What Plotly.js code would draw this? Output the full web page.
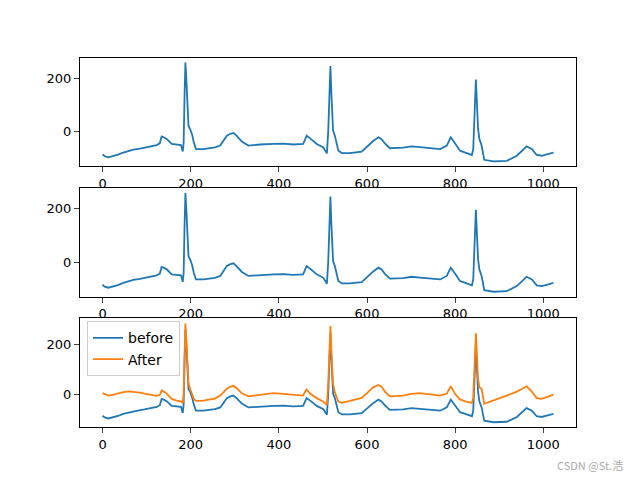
<!DOCTYPE html>
<html>
<head>
<meta charset="utf-8">
<script src="https://cdn.plot.ly/plotly-3.0.1.min.js"></script>
<style>html,body{margin:0;padding:0;background:#fff;}#chart{width:640px;height:480px;}</style>
</head>
<body>
<div id="chart"></div>
<script>
const sampleIndex = [0,5,13,25,35,47,60,70,85,95,108,123,130,134,140,146,157,168,178,182,184,186,188,190,193,195,199,203,207,212,229,244,255,267,282,290,297,304,316,331,357,388,410,433,455,459,463,471,486,501,509,512,515,517,519,521,523,527,535,543,561,588,603,614,626,633,641,652,682,701,720,743,766,781,790,800,811,823,838,841,844,847,849,852,855,860,866,887,917,940,962,974,985,996,1010,1023];
// Signal before processing
const before = [-85,-92,-96,-92,-86,-78,-72,-67,-63,-60,-55,-50,-43,-18,-22,-28,-46,-49,-50,-74,-40,130,258,200,100,22,8,-10,-40,-65,-65,-63,-59,-52,-15,-8,-5,-15,-37,-52,-48,-46,-45,-48,-46,-32,-15,-25,-46,-59,-81,0,160,245,150,30,4,-15,-71,-80,-80,-75,-52,-35,-21,-28,-45,-62,-60,-55,-58,-62,-65,-52,-21,-44,-71,-78,-87,-65,60,195,120,10,-28,-52,-105,-111,-109,-90,-55,-65,-87,-90,-84,-78];
// Signal after processing
const after = [5,0,-5,-1,4,9,12,11,7,3,-2,-6,-2,15,10,2,-18,-25,-28,-35,0,160,282,225,125,45,20,0,-18,-26,-25,-20,-17,-5,22,30,34,25,4,-8,-2,5,2,-3,-5,8,19,3,-15,-29,-42,40,190,272,180,65,41,8,-29,-34,-27,-14,10,28,37,30,10,-8,-5,2,5,1,-5,3,32,1,-20,-28,-34,-15,110,243,170,60,28,21,-38,-25,-5,11,32,11,-15,-18,-8,-1];
const seriesNames = ["before", "After"];
const xTicks = [0,200,400,600,800,1000];
const watermark = "CSDN @St.浩";

const blue = "#1f77b4", orange = "#ff7f0e";
function padRange(arrs){
  let mn = Infinity, mx = -Infinity;
  arrs.forEach(a => a.forEach(v => { if(v<mn) mn=v; if(v>mx) mx=v; }));
  const m = (mx-mn)*0.05; return [mn-m, mx+m];
}
const xr = padRange([sampleIndex]);
const y1r = padRange([before]);
const y3r = padRange([before, after]);

const lw = 1.8;
const traces = [
  {x: sampleIndex, y: before, xaxis:'x', yaxis:'y', mode:'lines', line:{color:blue, width:lw}, showlegend:false},
  {x: sampleIndex, y: before, xaxis:'x2', yaxis:'y2', mode:'lines', line:{color:blue, width:lw}, showlegend:false},
  {x: sampleIndex, y: before, xaxis:'x3', yaxis:'y3', mode:'lines', name: seriesNames[0], line:{color:blue, width:lw}},
  {x: sampleIndex, y: after, xaxis:'x3', yaxis:'y3', mode:'lines', name: seriesNames[1], line:{color:orange, width:lw}}
];
const font = {family:"DejaVu Sans", size:13, color:"#000"};
function xa(anchor){ return {domain:[0.125,0.9], anchor:anchor, range:xr, tickvals:xTicks, ticks:'outside', ticklen:5, tickwidth:1, showline:true, mirror:true, linecolor:'#000', linewidth:1, showgrid:false, zeroline:false, tickfont:font}; }
function ya(anchor, dom, r){ return {domain:dom, anchor:anchor, range:r, tick0:0, dtick:200, ticks:'outside', ticklen:5, tickwidth:1, showline:true, mirror:true, linecolor:'#000', linewidth:1, showgrid:false, zeroline:false, tickfont:font}; }
const layout = {
  width:640, height:480, margin:{l:0,r:0,t:0,b:0}, paper_bgcolor:'#fff', plot_bgcolor:'#fff', font:font,
  xaxis: xa('y'), yaxis: ya('x', [0.6535,0.88], y1r),
  xaxis2: xa('y2'), yaxis2: ya('x2', [0.3819,0.6083], y1r),
  xaxis3: xa('y3'), yaxis3: ya('x3', [0.11,0.3365], y3r),
  showlegend:true,
  legend:{x:0.136, y:0.3305, xanchor:'left', yanchor:'top', bgcolor:'rgba(255,255,255,0.8)', bordercolor:'#cccccc', borderwidth:1, font:{family:"DejaVu Sans", size:14, color:'#000'}, itemwidth:30, tracegroupgap:0},
  annotations:[{text:watermark, xref:'paper', yref:'paper', x:0.977, y:1-465/480, xanchor:'right', yanchor:'middle', showarrow:false, font:{family:"Noto Sans CJK SC", size:11, color:'#aaaaaa'}}]
};
Plotly.newPlot('chart', traces, layout, {displayModeBar:false, staticPlot:true});
</script>
</body>
</html>
